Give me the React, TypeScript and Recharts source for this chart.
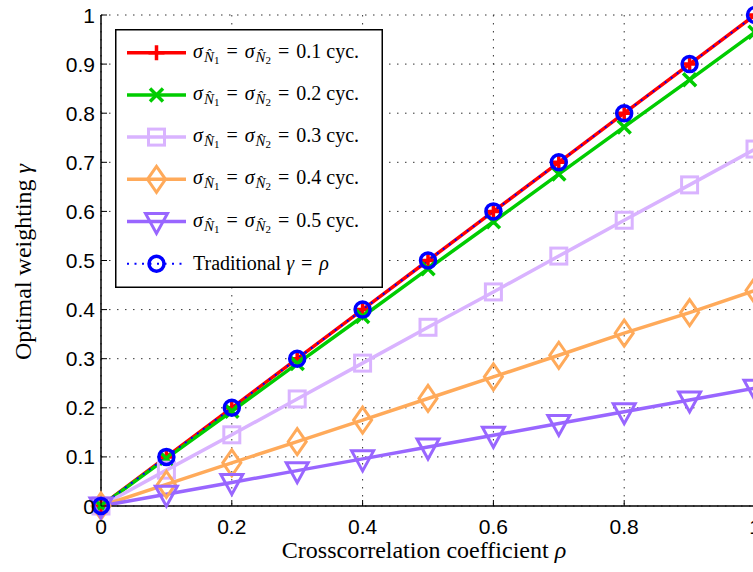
import { LineChart, Line, XAxis, YAxis, CartesianGrid, Legend, Label } from 'recharts'

// crosscorrelation coefficient rho
const rho = [0, 0.1, 0.2, 0.3, 0.4, 0.5, 0.6, 0.7, 0.8, 0.9, 1]

// optimal weighting gamma for each noise level
const gamma01 = [0, 0.1, 0.2, 0.3, 0.4, 0.5, 0.6, 0.7, 0.8, 0.9, 1.0]
const gamma02 = [0, 0.097, 0.193, 0.29, 0.386, 0.483, 0.579, 0.676, 0.772, 0.868, 0.965]
const gamma03 = [0, 0.073, 0.145, 0.218, 0.291, 0.364, 0.436, 0.509, 0.582, 0.654, 0.727]
const gamma04 = [0, 0.044, 0.088, 0.131, 0.175, 0.219, 0.263, 0.307, 0.352, 0.394, 0.439]
const gamma05 = [0, 0.024, 0.048, 0.072, 0.096, 0.12, 0.144, 0.168, 0.192, 0.216, 0.24]
const traditional = [0, 0.1, 0.2, 0.3, 0.4, 0.5, 0.6, 0.7, 0.8, 0.9, 1.0]

const sigmaLabels = ['0.1', '0.2', '0.3', '0.4', '0.5']
const xTicks = [0, 0.2, 0.4, 0.6, 0.8, 1]
const yTicks = [0, 0.1, 0.2, 0.3, 0.4, 0.5, 0.6, 0.7, 0.8, 0.9, 1]

const data = rho.map((r, i) => ({
  rho: r,
  s1: gamma01[i],
  s2: gamma02[i],
  s3: gamma03[i],
  s4: gamma04[i],
  s5: gamma05[i],
  trad: traditional[i],
}))

const SERIF = '"Liberation Serif", "Times New Roman", serif'
const SANS = '"Liberation Sans", Arial, sans-serif'

type MarkerKind = 'plus' | 'x' | 'square' | 'diamond' | 'tri' | 'circle'

const series: { key: string; color: string; marker: MarkerKind }[] = [
  { key: 's1', color: '#ff0000', marker: 'plus' },
  { key: 's2', color: '#00cc00', marker: 'x' },
  { key: 's3', color: '#d9b3ff', marker: 'square' },
  { key: 's4', color: '#ffaa5a', marker: 'diamond' },
  { key: 's5', color: '#9966ff', marker: 'tri' },
]
const tradColor = '#0000ff'

function Marker({ kind, cx, cy, color }: { kind: MarkerKind; cx: number; cy: number; color: string }) {
  const s = { stroke: color, fill: 'none', strokeWidth: 3 }
  switch (kind) {
    case 'plus':
      return <path d={`M${cx - 8},${cy}H${cx + 8}M${cx},${cy - 7.5}V${cy + 7.5}`} {...s} strokeWidth={3.5} />
    case 'x':
      return (
        <path
          d={`M${cx - 6.5},${cy - 6.5}L${cx + 6.5},${cy + 6.5}M${cx - 6.5},${cy + 6.5}L${cx + 6.5},${cy - 6.5}`}
          {...s}
          strokeWidth={3.5}
        />
      )
    case 'square':
      return <rect x={cx - 8} y={cy - 8} width={16} height={16} {...s} />
    case 'diamond':
      return <path d={`M${cx},${cy - 13}L${cx + 9},${cy}L${cx},${cy + 13}L${cx - 9},${cy}Z`} {...s} />
    case 'tri':
      return <path d={`M${cx - 11},${cy - 8}L${cx + 11},${cy - 8}L${cx},${cy + 12}Z`} {...s} />
    default:
      return <circle cx={cx} cy={cy} r={7.5} {...s} strokeWidth={3.5} />
  }
}

const dotFor = (kind: MarkerKind, color: string) => (p: any) => (
  <Marker key={`${kind}-${p.index}`} kind={kind} cx={p.cx} cy={p.cy} color={color} />
)

function SigmaText({ x, y, value }: { x: number; y: number; value: string }) {
  return (
    <text x={x} y={y} fontFamily={SERIF} fontSize={20} fill="#000">
      <tspan fontStyle="italic">σ</tspan>
      <tspan fontStyle="italic" fontSize={15} dy={4} dx={1}>{'N\u0302'}</tspan>
      <tspan fontSize={11} dy={2}>1</tspan>
      <tspan dy={-6} dx={7}>=</tspan>
      <tspan fontStyle="italic" dx={7}>σ</tspan>
      <tspan fontStyle="italic" fontSize={15} dy={4} dx={1}>{'N\u0302'}</tspan>
      <tspan fontSize={11} dy={2}>2</tspan>
      <tspan dy={-6} dx={7}>=</tspan>
      <tspan dx={7}>{value} cyc.</tspan>
    </text>
  )
}

function LegendBox() {
  const w = 268
  const h = 259
  const rowY = (i: number) => 23.7 + i * 42.2
  return (
    <svg width={w} height={h} style={{ display: 'block' }}>
      <rect x={0.75} y={0.75} width={w - 1.5} height={h - 1.5} fill="#fff" stroke="#000" strokeWidth={1.5} />
      {series.map((s, i) => (
        <g key={s.key}>
          <line x1={12} x2={71} y1={rowY(i)} y2={rowY(i)} stroke={s.color} strokeWidth={3.5} />
          <Marker kind={s.marker} cx={41.5} cy={rowY(i)} color={s.color} />
          <SigmaText x={78} y={rowY(i) + 5} value={sigmaLabels[i]} />
        </g>
      ))}
      <line x1={12} x2={71} y1={rowY(5)} y2={rowY(5)} stroke={tradColor} strokeWidth={2} strokeDasharray="2 5.5" />
      <Marker kind="circle" cx={41.5} cy={rowY(5)} color={tradColor} />
      <text x={78} y={rowY(5) + 6} fontFamily={SERIF} fontSize={20} fill="#000">
        Traditional <tspan fontStyle="italic">γ</tspan>
        <tspan dx={7}>=</tspan>
        <tspan fontStyle="italic" dx={7}>ρ</tspan>
      </text>
    </svg>
  )
}

const YTick = (p: any) => (
  <g>
    <line x1={p.x + 6} x2={p.x + 12} y1={p.y} y2={p.y} stroke="#000" strokeWidth={1} />
    <text x={p.x} y={p.y} dy="0.36em" textAnchor="end" fontFamily={SANS} fontSize={21} fill="#000">
      {String(p.payload.value)}
    </text>
  </g>
)

const XTick = (p: any) => (
  <g>
    <line x1={p.x} x2={p.x} y1={p.y - 13} y2={p.y - 19} stroke="#000" strokeWidth={1} />
    <text x={p.x} y={p.y} dy="0.71em" textAnchor="middle" fontFamily={SANS} fontSize={21} fill="#000">
      {String(p.payload.value)}
    </text>
  </g>
)

const TopTick = (p: any) => (
  <line x1={p.x} x2={p.x} y1={p.y} y2={p.y + 6} stroke="#000" strokeWidth={1} />
)

export default function App() {
  return (
    <div style={{ position: 'absolute', left: 0, top: 0, width: 753, height: 572, overflow: 'hidden', background: '#fff' }}>
      <LineChart width={760} height={572} data={data} margin={{ top: 15, right: 5, left: 41, bottom: 26 }}>
        <CartesianGrid stroke="#333" strokeDasharray="1.5 6.5" ticks={yTicks} />
        <XAxis
          dataKey="rho"
          type="number"
          domain={[0, 1]}
          ticks={xTicks}
          height={40}
          tickSize={0}
          tickMargin={13}
          tick={XTick}
          axisLine={{ stroke: '#000', strokeWidth: 1.5 }}
          tickLine={false}
          interval={0}
        >
          <Label
            content={() => (
              <text x={424} y={558} textAnchor="middle" fontFamily={SERIF} fontSize={24} fill="#000">
                Crosscorrelation coefficient <tspan fontStyle="italic">ρ</tspan>
              </text>
            )}
          />
        </XAxis>
        <XAxis
          xAxisId="top"
          orientation="top"
          dataKey="rho"
          type="number"
          domain={[0, 1]}
          ticks={xTicks}
          height={0}
          tickSize={0}
          tickMargin={0}
          tick={TopTick}
          axisLine={{ stroke: '#000', strokeWidth: 1.5 }}
          tickLine={false}
          interval={0}
        />
        <YAxis
          type="number"
          domain={[0, 1]}
          ticks={yTicks}
          width={60}
          tickSize={0}
          tickMargin={6}
          tick={YTick}
          axisLine={{ stroke: '#000', strokeWidth: 1.5 }}
          tickLine={false}
          interval={0}
        >
          <Label
            content={() => (
              <text
                x={31}
                y={262}
                transform="rotate(-90 31 262)"
                textAnchor="middle"
                fontFamily={SERIF}
                fontSize={24}
                fill="#000"
              >
                Optimal weighting <tspan fontStyle="italic">γ</tspan>
              </text>
            )}
          />
        </YAxis>
        <Legend
          layout="vertical"
          align="center"
          verticalAlign="middle"
          content={() => <LegendBox />}
          wrapperStyle={{ position: 'absolute', left: 115, top: 29, width: 268, height: 259 }}
        />
        {series.map((s) => (
          <Line
            key={s.key}
            type="linear"
            dataKey={s.key}
            stroke={s.color}
            strokeWidth={3.5}
            dot={dotFor(s.marker, s.color)}
            activeDot={false}
            isAnimationActive={false}
          />
        ))}
        <Line
          type="linear"
          dataKey="trad"
          stroke={tradColor}
          strokeWidth={2}
          strokeDasharray="2 5.5"
          dot={dotFor('circle', tradColor)}
          activeDot={false}
          isAnimationActive={false}
        />
      </LineChart>
    </div>
  )
}
